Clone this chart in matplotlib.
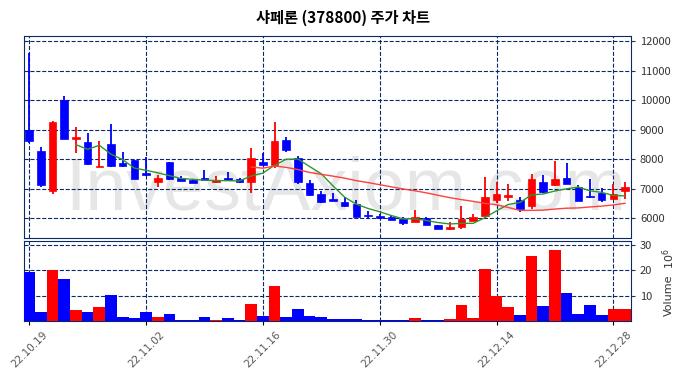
import matplotlib
matplotlib.use("Agg")
import matplotlib.pyplot as plt
import pandas as pd
import numpy as np

plt.rcParams['font.family'] = ['Noto Sans CJK KR', 'DejaVu Sans']

# daily candles (KRW)
opens  = [9000, 8290, 6920, 10000, 8670, 8590, 7730, 8520, 7875, 7960,
          7550, 7240, 7910, 7370, 7280, 7350, 7220, 7380, 7340, 7220,
          7920, 7795, 8660, 8040, 7180, 6810, 6670, 6550, 6480, 6100,
          6090, 6030, 5975, 5890, 6000, 5765, 5640, 5720, 5920, 6090,
          6615, 6705, 6615, 6415, 7245, 7120, 7380, 7065, 6750, 6840,
          6665, 6935]
highs  = [11580, 8410, 9280, 10140, 9090, 8890, 8615, 9190, 8245, 7970,
          8065, 7450, 7920, 7440, 7290, 7640, 7415, 7580, 7350, 8390,
          8210, 9275, 8750, 8120, 7280, 6920, 6840, 6730, 6605, 6245,
          6160, 6100, 6035, 6290, 6035, 5790, 5890, 6415, 6145, 7390,
          7235, 7170, 6720, 7515, 7450, 7955, 7875, 7120, 7335, 7020,
          7170, 7220]
lows   = [8550, 7055, 6810, 8680, 8210, 7820, 7720, 7740, 7750, 7320,
          7440, 7075, 7300, 7260, 7180, 7290, 7210, 7280, 7210, 6865,
          7790, 7705, 8245, 7155, 6770, 6530, 6570, 6400, 6030, 5965,
          5990, 5930, 5790, 5880, 5770, 5630, 5595, 5630, 5900, 6080,
          6530, 6595, 6225, 6325, 6840, 7090, 7150, 6590, 6700, 6550,
          6640, 6665]
closes = [8600, 7120, 9275, 8695, 8760, 7830, 7785, 7785, 7760, 7335,
          7460, 7355, 7315, 7270, 7200, 7305, 7305, 7290, 7220, 8045,
          7795, 8625, 8320, 7235, 6785, 6560, 6585, 6415, 6045, 6065,
          6000, 5945, 5855, 6055, 5775, 5655, 5705, 5965, 6055, 6730,
          6810, 6785, 6305, 7335, 6885, 7315, 7155, 6595, 6705, 6615,
          6810, 7065]
# volume (shares)
volumes = [19.3e6, 3.6e6, 20.1e6, 16.7e6, 4.3e6, 3.6e6, 5.5e6, 10.1e6, 1.65e6, 1.3e6,
           3.6e6, 1.65e6, 2.8e6, 0.5e6, 0.5e6, 1.65e6, 0.5e6, 1.3e6, 0.5e6, 6.65e6,
           2.0e6, 13.9e6, 1.65e6, 4.7e6, 2.0e6, 1.65e6, 0.9e6, 0.9e6, 0.9e6, 0.5e6,
           0.5e6, 0.5e6, 0.5e6, 1.3e6, 0.5e6, 0.3e6, 0.9e6, 6.3e6, 1.3e6, 20.5e6,
           9.7e6, 5.5e6, 2.4e6, 25.5e6, 5.9e6, 28.2e6, 10.9e6, 2.8e6, 6.3e6, 2.4e6,
           4.7e6, 4.7e6]

dates = pd.bdate_range('2022-10-19', '2022-12-29')
labels = [d.strftime('%y.%m.%d') for d in dates]

UP = '#ff0000'
DOWN = '#0000ff'
GRID = '#0a2a66'

n = len(closes)
x = np.arange(n)
cols = [UP if c > o else DOWN for o, c in zip(opens, closes)]

fig = plt.figure(figsize=(6.85, 3.78), dpi=100)
ax = fig.add_axes([0.035, 0.370, 0.886, 0.535])
axv = fig.add_axes([0.035, 0.151, 0.886, 0.2115], sharex=ax)

# watermark
ax.text(0.53, 0.24, 'InvestAxiom.com', transform=ax.transAxes, ha='center', va='center',
        fontsize=53, color='#e6e6e6', family='Liberation Sans', zorder=0)

ax.vlines(x, lows, highs, colors=cols, linewidth=1.3, zorder=3)
bottoms = [min(o, c) for o, c in zip(opens, closes)]
heights = [max(abs(c - o), 30) for o, c in zip(opens, closes)]
ax.bar(x, heights, bottom=bottoms, width=0.65, color=cols, edgecolor=cols,
       linewidth=0.5, zorder=4)

s = pd.Series(closes)
ax.plot(x, s.rolling(5).mean(), color='#2e962e', linewidth=1.0, zorder=5)
ax.plot(x, s.rolling(20).mean(), color='#ff4040', linewidth=1.0, zorder=5)

ax.set_ylim(5330, 12170)
ax.set_yticks(range(6000, 12001, 1000))
ax.yaxis.tick_right()
ax.tick_params(axis='y', labelsize=8, colors='#333333', length=3)
ax.tick_params(axis='x', labelbottom=False, length=0)

axv.bar(x, volumes, width=1.0, color=cols, zorder=3)
axv.set_ylim(0, 31.6e6)
axv.set_yticks([10e6, 20e6, 30e6])
axv.set_yticklabels(['10', '20', '30'])
axv.yaxis.tick_right()
axv.tick_params(axis='y', labelsize=8, colors='#333333', length=3)
axv.text(1.062, 0.32, 'Volume', transform=axv.transAxes, rotation=90,
         ha='center', va='center', fontsize=8, color='#333333', family='DejaVu Sans')
axv.text(1.062, 0.78, r'$10^6$', transform=axv.transAxes, rotation=90,
         ha='center', va='center', fontsize=8, color='#333333')

axv.set_xlim(-0.45, n - 0.5)
ticks = list(range(0, n, 10))
axv.set_xticks(ticks)
axv.set_xticklabels([labels[i] for i in ticks], rotation=45, fontsize=7.5,
                    color='#555555', family='DejaVu Sans')
axv.tick_params(axis='x', length=3)

for a in (ax, axv):
    a.grid(True, linestyle='--', color=GRID, linewidth=0.8, zorder=1)
    a.set_axisbelow(True)
    for sp in a.spines.values():
        sp.set_color(GRID)
        sp.set_linewidth(0.8)

fig.suptitle('샤페론 (378800) 주가 차트', y=0.975, fontsize=11, fontweight='bold')

fig.savefig('out.png', dpi=100)
